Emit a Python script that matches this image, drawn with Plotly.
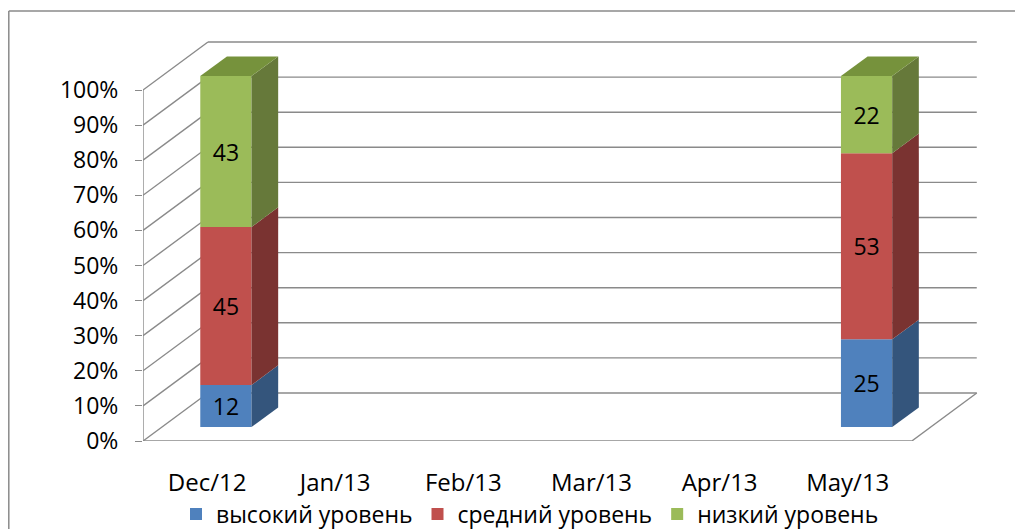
import plotly.graph_objects as go

# ---------------- data ----------------
categories = ["Dec/12", "Jan/13", "Feb/13", "Mar/13", "Apr/13", "May/13"]
series_names = ["высокий уровень", "средний уровень", "низкий уровень"]
high_level = [12, None, None, None, None, 25]
mid_level = [45, None, None, None, None, 53]
low_level = [43, None, None, None, None, 22]
y_tick_values = [0, 10, 20, 30, 40, 50, 60, 70, 80, 90, 100]
y_tick_labels = [f"{v}%" for v in y_tick_values]

# ---------------- style ----------------
front_colors = ["#4F81BD", "#C0504D", "#9BBB59"]
side_colors = ["#34557C", "#7A3331", "#66793A"]
top_colors = ["#3E6396", "#9A3E3C", "#76923C"]
grid_color = "#8A8A8A"
FONT = "Open Sans"
DEPTH_X = 0.507      # wall depth in category units
DEPTH_Y = 13.68      # wall depth in percent units
BAR_D0, BAR_D1 = 0.29, 0.70   # bar position inside the depth
BAR_W = 0.40

series = [high_level, mid_level, low_level]
n = len(categories)
x_idx = list(range(n))

fig = go.Figure()
shapes = []

def line(x0, y0, x1, y1, color=grid_color, width=1.4, xref="x", yref="y"):
    shapes.append(dict(type="line", x0=x0, y0=y0, x1=x1, y1=y1, xref=xref, yref=yref,
                       layer="below", line=dict(color=color, width=width)))

x_left = -0.5
x_right = n - 0.5
# back wall gridlines + left wall diagonals
for v in y_tick_values:
    line(x_left + DEPTH_X, v + DEPTH_Y, x_right + DEPTH_X, v + DEPTH_Y)
    line(x_left, v, x_left + DEPTH_X, v + DEPTH_Y)
# floor: front edge and right diagonal
line(x_left, 0, x_right, 0)
line(x_right, 0, x_right + DEPTH_X, DEPTH_Y)
# front vertical axis
line(x_left, 0, x_left, max(y_tick_values))
# category boundary ticks
for k in range(n + 1):
    line(x_left + k, 0, x_left + k, -2.0)

# ---------------- bars ----------------
ox0, oy0 = BAR_D0 * DEPTH_X, BAR_D0 * DEPTH_Y
ddx, ddy = (BAR_D1 - BAR_D0) * DEPTH_X, (BAR_D1 - BAR_D0) * DEPTH_Y

totals = []
for i in x_idx:
    vals = [s[i] for s in series]
    totals.append(sum(v for v in vals if v is not None) if any(v is not None for v in vals) else None)

cum = [0.0 if t else None for t in totals]
side_polys = []
top_polys = []
for si, s in enumerate(series):
    xs, ys, bases, texts = [], [], [], []
    for i in x_idx:
        v = s[i]
        if v is None or not totals[i]:
            continue
        share = v / totals[i] * 100
        lo = cum[i]
        hi = lo + share
        cum[i] = hi
        xs.append(i + ox0)
        bases.append(lo + oy0)
        ys.append(share)
        texts.append(str(v))
        xr = i + ox0 + BAR_W / 2
        xl = i + ox0 - BAR_W / 2
        side_polys.append((si, [xr, xr + ddx, xr + ddx, xr, xr],
                           [lo + oy0, lo + oy0 + ddy, hi + oy0 + ddy, hi + oy0, lo + oy0]))
        if si == len(series) - 1:
            top_polys.append((si, [xl, xr, xr + ddx, xl + ddx, xl],
                              [hi + oy0, hi + oy0, hi + oy0 + ddy, hi + oy0 + ddy, hi + oy0]))
    fig.add_trace(go.Bar(
        x=xs, y=ys, base=bases, width=BAR_W, name=series_names[si],
        marker=dict(color=front_colors[si], line=dict(width=0)),
        text=texts, textposition="inside", insidetextanchor="middle",
        textangle=0, constraintext="none",
        textfont=dict(family=FONT, size=23, color="black"),
        hoverinfo="skip",
    ))

for si, px, py in side_polys:
    fig.add_trace(go.Scatter(x=px, y=py, mode="lines", fill="toself",
                             fillcolor=side_colors[si], line=dict(width=0, color=side_colors[si]),
                             showlegend=False, hoverinfo="skip"))
for si, px, py in top_polys:
    fig.add_trace(go.Scatter(x=px, y=py, mode="lines", fill="toself",
                             fillcolor=top_colors[si], line=dict(width=0, color=top_colors[si]),
                             showlegend=False, hoverinfo="skip"))

# page body has an 8px margin, so figure coordinates = screen - 8
X_MAX = 6.04
PX_PER_CAT = 128.2
W, H = 1023, 529
L, T, B = 135, 22, 96
pw = PX_PER_CAT * (X_MAX - x_left)
R = int(round(W - L - pw))
pw = W - L - R
ph = H - T - B
def px2paper_x(p): return (p - L) / pw
def px2paper_y(p): return (H - B - p) / ph
line(px2paper_x(0.8), px2paper_y(3), px2paper_x(0.8), px2paper_y(H + 5), xref="paper", yref="paper", width=1.5)
line(px2paper_x(0.8), px2paper_y(3), px2paper_x(W + 5), px2paper_y(3), xref="paper", yref="paper", width=1.5)

fig.update_layout(
    width=W, height=H,
    margin=dict(l=L, r=R, t=T, b=B, autoexpand=False),
    paper_bgcolor="white", plot_bgcolor="white",
    barmode="overlay",
    shapes=shapes,
    font=dict(family=FONT, size=23, color="black"),
    showlegend=True,
    legend=dict(orientation="h", x=px2paper_x(522), xanchor="center",
                y=px2paper_y(506), yanchor="middle",
                font=dict(family=FONT, size=23, color="black"),
                bgcolor="rgba(0,0,0,0)", itemsizing="constant"),
    xaxis=dict(range=[x_left, X_MAX], tickvals=x_idx, ticktext=categories,
               showgrid=False, zeroline=False, showline=False, ticks="",
               ticklabelstandoff=25, tickfont=dict(family=FONT, size=24, color="black"),
               fixedrange=True),
    yaxis=dict(range=[0, ph / 3.51], tickvals=y_tick_values, ticktext=y_tick_labels,
               showgrid=False, zeroline=False, showline=False,
               ticks="outside", ticklen=7, tickwidth=1.4, tickcolor=grid_color,
               ticklabelstandoff=12, tickfont=dict(family=FONT, size=23, color="black"),
               fixedrange=True),
)

fig.write_html("out.html")
